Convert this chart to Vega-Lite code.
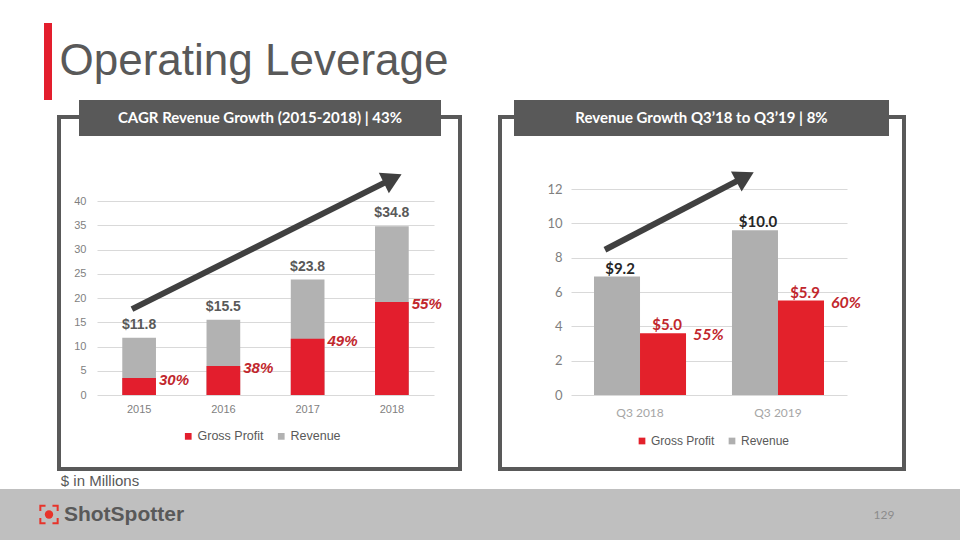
{
  "$schema": "https://vega.github.io/schema/vega-lite/v6.json",
  "padding": 0,
  "autosize": {"type": "pad"},
  "background": "white",
  "spacing": 0,
  "resolve": {"scale": {"color": "independent"}},
  "config": {
    "view": {"stroke": null},
    "axis": {"domain": false, "ticks": false}
  },
  "vconcat": [
    {
      "spacing": 0,
      "vconcat": [
        {"width": 960, "height": 23, "view": {"fill": "white", "stroke": null}, "data": {"values": []}, "mark": "point", "encoding": {}},
        {
          "spacing": 0,
          "hconcat": [
            {"width": 44, "height": 77, "data": {"values": []}, "mark": "point", "encoding": {}},
            {"width": 8, "height": 77, "view": {"fill": "#E31E2D", "stroke": null}, "data": {"values": []}, "mark": "point", "encoding": {}},
            {
              "width": 404, "height": 77,
              "data": {"values": [{"t": "Operating Leverage"}]},
              "mark": {"type": "text", "font": "Liberation Sans", "fontSize": 44, "color": "#595959", "baseline": "middle", "align": "center"},
              "encoding": {"text": {"field": "t"}}
            }
          ]
        }
      ]
    },
    {
      "spacing": 0,
      "resolve": {"scale": {"color": "independent"}},
      "hconcat": [
        {"width": 57, "height": 1, "data": {"values": []}, "mark": "point", "encoding": {}},
        {
          "spacing": 0,
          "resolve": {"scale": {"color": "independent"}},
          "hconcat": [
            {"spacing": 0, "vconcat": [
              {"width": 4, "height": 15, "data": {"values": []}, "mark": "point", "encoding": {}},
              {"width": 4, "height": 356, "view": {"fill": "#595959", "stroke": null}, "data": {"values": []}, "mark": "point", "encoding": {}}
            ]},
            {
              "spacing": 0,
              "resolve": {"scale": {"color": "independent"}},
              "vconcat": [
                {"spacing": 0, "hconcat": [
                  {"spacing": 0, "vconcat": [
                    {"width": 18, "height": 15, "data": {"values": []}, "mark": "point", "encoding": {}},
                    {"width": 18, "height": 4, "view": {"fill": "#595959", "stroke": null}, "data": {"values": []}, "mark": "point", "encoding": {}}
                  ]},
                  {
                    "width": 362, "height": 36, "view": {"fill": "#595959", "stroke": null},
                    "data": {"values": [{"h": "CAGR Revenue Growth (2015-2018) | 43%"}]},
                    "mark": {"type": "text", "font": "Lato", "fontSize": 15, "fontWeight": "bold", "color": "#FFFFFF", "baseline": "middle", "align": "center"},
                    "encoding": {"text": {"field": "h"}}
                  },
                  {"spacing": 0, "vconcat": [
                    {"width": 17, "height": 15, "data": {"values": []}, "mark": "point", "encoding": {}},
                    {"width": 17, "height": 4, "view": {"fill": "#595959", "stroke": null}, "data": {"values": []}, "mark": "point", "encoding": {}}
                  ]}
                ]},
                {
                  "width": 397, "height": 331,
                  "resolve": {"scale": {"x": "independent"}, "axis": {"x": "independent"}},
                  "layer": [
                    {
                      "data": {"values": [
                        {"year": "2015", "series": "Revenue", "value": 11.8, "label": "$11.8"},
                        {"year": "2016", "series": "Revenue", "value": 15.5, "label": "$15.5"},
                        {"year": "2017", "series": "Revenue", "value": 23.8, "label": "$23.8"},
                        {"year": "2018", "series": "Revenue", "value": 34.8, "label": "$34.8"},
                        {"year": "2015", "series": "Gross Profit", "value": 3.5, "label": "30%"},
                        {"year": "2016", "series": "Gross Profit", "value": 6.0, "label": "38%"},
                        {"year": "2017", "series": "Gross Profit", "value": 11.6, "label": "49%"},
                        {"year": "2018", "series": "Gross Profit", "value": 19.2, "label": "55%"}
                      ]},
                      "layer": [
                        {
                          "mark": {"type": "bar"},
                          "encoding": {
                            "x": {"field": "year", "type": "ordinal", "title": null,
                              "scale": {"range": [36, 373], "paddingInner": 0.6, "paddingOuter": 0.3},
                              "axis": {"labelAngle": 0, "offset": -72, "labelPadding": 8, "labelColor": "#7F7F7F", "labelFont": "Liberation Sans", "labelFontSize": 11, "grid": false}},
                            "y": {"field": "value", "type": "quantitative", "stack": null, "title": null,
                              "scale": {"domain": [0, 40], "nice": false, "range": [259, 65]},
                              "axis": {"values": [0, 5, 10, 15, 20, 25, 30, 35, 40], "offset": -36, "labelPadding": 11, "grid": true, "gridColor": "#D9D9D9", "labelColor": "#7F7F7F", "labelFont": "Liberation Sans", "labelFontSize": 11}},
                            "color": {"field": "series", "type": "nominal",
                              "scale": {"domain": ["Gross Profit", "Revenue"], "range": ["#E31E2D", "#B2B2B2"]},
                              "legend": {"orient": "none", "legendX": 121, "legendY": 294, "direction": "horizontal", "title": null, "symbolType": "square", "symbolSize": 45, "symbolStrokeWidth": 0, "labelFont": "Liberation Sans", "labelFontSize": 12.5, "labelColor": "#595959", "columnPadding": 11, "labelOffset": 3}}
                          }
                        },
                        {
                          "transform": [{"filter": "datum.series == 'Revenue'"}],
                          "mark": {"type": "text", "font": "Liberation Sans", "fontSize": 14, "fontWeight": "bold", "color": "#595959", "baseline": "alphabetic", "dy": -9},
                          "encoding": {
                            "x": {"field": "year", "type": "ordinal"},
                            "y": {"field": "value", "type": "quantitative"},
                            "text": {"field": "label"}
                          }
                        },
                        {
                          "transform": [{"filter": "datum.series == 'Gross Profit'"}],
                          "mark": {"type": "text", "font": "Liberation Sans", "fontSize": 15, "fontWeight": "bold", "fontStyle": "italic", "color": "#C1272D", "baseline": "middle", "align": "left", "dx": 3, "dy": 2},
                          "encoding": {
                            "x": {"field": "year", "type": "ordinal", "bandPosition": 1},
                            "y": {"field": "value", "type": "quantitative"},
                            "text": {"field": "label"}
                          }
                        }
                      ]
                    },
                    {
                      "data": {"values": [{"ax": 0.415, "ay": 17.7, "bx": 3.51, "by": 44.6}]},
                      "layer": [
                        {
                          "mark": {"type": "rule", "strokeWidth": 6, "color": "#404040"},
                          "encoding": {
                            "x": {"field": "ax", "type": "quantitative", "scale": {"domain": [0, 4], "range": [36, 373]}, "axis": null},
                            "x2": {"field": "bx"},
                            "y": {"field": "ay", "type": "quantitative", "title": null, "scale": {"domain": [0, 40]}},
                            "y2": {"field": "by"}
                          }
                        },
                        {
                          "mark": {"type": "point", "shape": "triangle-up", "angle": 64, "size": 520, "filled": true, "color": "#404040", "opacity": 1},
                          "encoding": {
                            "x": {"field": "bx", "type": "quantitative", "scale": {"domain": [0, 4], "range": [36, 373]}, "axis": null},
                            "y": {"field": "by", "type": "quantitative", "title": null, "scale": {"domain": [0, 40]}}
                          }
                        }
                      ]
                    }
                  ]
                },
                {"width": 397, "height": 4, "view": {"fill": "#595959", "stroke": null}, "data": {"values": []}, "mark": "point", "encoding": {}}
              ]
            },
            {"spacing": 0, "vconcat": [
              {"width": 4, "height": 15, "data": {"values": []}, "mark": "point", "encoding": {}},
              {"width": 4, "height": 356, "view": {"fill": "#595959", "stroke": null}, "data": {"values": []}, "mark": "point", "encoding": {}}
            ]}
          ]
        },
        {"width": 36, "height": 1, "data": {"values": []}, "mark": "point", "encoding": {}},
        {
          "spacing": 0,
          "resolve": {"scale": {"color": "independent"}},
          "hconcat": [
            {"spacing": 0, "vconcat": [
              {"width": 4, "height": 15, "data": {"values": []}, "mark": "point", "encoding": {}},
              {"width": 4, "height": 356, "view": {"fill": "#595959", "stroke": null}, "data": {"values": []}, "mark": "point", "encoding": {}}
            ]},
            {
              "spacing": 0,
              "resolve": {"scale": {"color": "independent"}},
              "vconcat": [
                {"spacing": 0, "hconcat": [
                  {"spacing": 0, "vconcat": [
                    {"width": 12, "height": 15, "data": {"values": []}, "mark": "point", "encoding": {}},
                    {"width": 12, "height": 4, "view": {"fill": "#595959", "stroke": null}, "data": {"values": []}, "mark": "point", "encoding": {}}
                  ]},
                  {
                    "width": 375, "height": 36, "view": {"fill": "#595959", "stroke": null},
                    "data": {"values": [{"h": "Revenue Growth Q3’18 to Q3’19  | 8%"}]},
                    "mark": {"type": "text", "font": "Lato", "fontSize": 15, "fontWeight": "bold", "color": "#FFFFFF", "baseline": "middle", "align": "center"},
                    "encoding": {"text": {"field": "h"}}
                  },
                  {"spacing": 0, "vconcat": [
                    {"width": 13, "height": 15, "data": {"values": []}, "mark": "point", "encoding": {}},
                    {"width": 13, "height": 4, "view": {"fill": "#595959", "stroke": null}, "data": {"values": []}, "mark": "point", "encoding": {}}
                  ]}
                ]},
                {
                  "width": 400, "height": 331,
                  "resolve": {"scale": {"x": "independent"}, "axis": {"x": "independent"}},
                  "layer": [
                    {
                      "data": {"values": [
                        {"quarter": "Q3 2018", "series": "Revenue", "value": 6.9, "label": "$9.2", "pct": ""},
                        {"quarter": "Q3 2019", "series": "Revenue", "value": 9.6, "label": "$10.0", "pct": ""},
                        {"quarter": "Q3 2018", "series": "Gross Profit", "value": 3.6, "label": "$5.0", "pct": "55%"},
                        {"quarter": "Q3 2019", "series": "Gross Profit", "value": 5.5, "label": "$5.9", "pct": "60%"}
                      ]},
                      "layer": [
                        {
                          "mark": {"type": "bar"},
                          "encoding": {
                            "x": {"field": "quarter", "type": "nominal", "title": null,
                              "scale": {"range": [69, 345], "paddingInner": 0.333, "paddingOuter": 0.1667},
                              "axis": {"labelAngle": 0, "offset": -72, "labelPadding": 12, "labelColor": "#A6A6A6", "labelFont": "Lato", "labelFontSize": 12, "grid": false}},
                            "xOffset": {"field": "series", "type": "nominal", "scale": {"domain": ["Revenue", "Gross Profit"], "paddingInner": 0, "paddingOuter": 0}},
                            "y": {"field": "value", "type": "quantitative", "stack": null, "title": null,
                              "scale": {"domain": [0, 12], "nice": false, "range": [259, 53]},
                              "axis": {"values": [0, 2, 4, 6, 8, 10, 12], "offset": -69, "labelPadding": 9, "grid": true, "gridColor": "#D9D9D9", "labelColor": "#7F7F7F", "labelFont": "Lato", "labelFontSize": 13}},
                            "color": {"field": "series", "type": "nominal",
                              "scale": {"domain": ["Gross Profit", "Revenue"], "range": ["#E3212B", "#AFAFAF"]},
                              "legend": {"orient": "none", "legendX": 134, "legendY": 299, "direction": "horizontal", "title": null, "symbolType": "square", "symbolSize": 45, "symbolStrokeWidth": 0, "labelFont": "Liberation Sans", "labelFontSize": 12, "labelColor": "#595959", "columnPadding": 11, "labelOffset": 3}}
                          }
                        },
                        {
                          "transform": [{"filter": "datum.series == 'Revenue'"}],
                          "mark": {"type": "text", "font": "Lato", "fontSize": 15, "fontWeight": "bold", "color": "#262626", "baseline": "alphabetic", "dy": -3, "dx": 3},
                          "encoding": {
                            "x": {"field": "quarter", "type": "nominal", "bandPosition": 0.25},
                            "y": {"field": "value", "type": "quantitative"},
                            "text": {"field": "label"}
                          }
                        },
                        {
                          "transform": [{"filter": "datum.series == 'Gross Profit'"}],
                          "mark": {"type": "text", "font": "Lato", "fontSize": 15, "fontWeight": "bold", "color": "#C1272D", "baseline": "alphabetic", "dy": -3, "dx": 4},
                          "encoding": {
                            "x": {"field": "quarter", "type": "nominal", "bandPosition": 0.75},
                            "y": {"field": "value", "type": "quantitative"},
                            "text": {"field": "label"}
                          }
                        },
                        {
                          "transform": [{"filter": "datum.series == 'Gross Profit'"}],
                          "mark": {"type": "text", "font": "Lato", "fontSize": 16, "fontWeight": "bold", "fontStyle": "italic", "color": "#C1272D", "baseline": "middle", "align": "left", "dx": 7, "dy": 2},
                          "encoding": {
                            "x": {"field": "quarter", "type": "nominal", "bandPosition": 1},
                            "y": {"field": "value", "type": "quantitative"},
                            "text": {"field": "pct"}
                          }
                        }
                      ]
                    },
                    {
                      "data": {"values": [{"ax": 0.246, "ay": 8.46, "bx": 1.261, "by": 12.71}]},
                      "layer": [
                        {
                          "mark": {"type": "rule", "strokeWidth": 6, "color": "#404040"},
                          "encoding": {
                            "x": {"field": "ax", "type": "quantitative", "scale": {"domain": [0, 2], "range": [69, 345]}, "axis": null},
                            "x2": {"field": "bx"},
                            "y": {"field": "ay", "type": "quantitative", "title": null, "scale": {"domain": [0, 12]}},
                            "y2": {"field": "by"}
                          }
                        },
                        {
                          "mark": {"type": "point", "shape": "triangle-up", "angle": 62, "size": 520, "filled": true, "color": "#404040", "opacity": 1},
                          "encoding": {
                            "x": {"field": "bx", "type": "quantitative", "scale": {"domain": [0, 2], "range": [69, 345]}, "axis": null},
                            "y": {"field": "by", "type": "quantitative", "title": null, "scale": {"domain": [0, 12]}}
                          }
                        }
                      ]
                    }
                  ]
                },
                {"width": 400, "height": 4, "view": {"fill": "#595959", "stroke": null}, "data": {"values": []}, "mark": "point", "encoding": {}}
              ]
            },
            {"spacing": 0, "vconcat": [
              {"width": 4, "height": 15, "data": {"values": []}, "mark": "point", "encoding": {}},
              {"width": 4, "height": 356, "view": {"fill": "#595959", "stroke": null}, "data": {"values": []}, "mark": "point", "encoding": {}}
            ]}
          ]
        }
      ]
    },
    {
      "spacing": 0,
      "hconcat": [
        {"width": 59, "height": 18, "data": {"values": []}, "mark": "point", "encoding": {}},
        {
          "width": 82, "height": 18,
          "data": {"values": [{"t": "$ in Millions"}]},
          "mark": {"type": "text", "font": "Liberation Sans", "fontSize": 15, "color": "#595959", "baseline": "middle", "align": "center", "dy": 1},
          "encoding": {"text": {"field": "t"}}
        }
      ]
    },
    {
      "spacing": 0,
      "hconcat": [
        {"width": 35, "height": 51, "view": {"fill": "#BFBFBF", "stroke": null}, "data": {"values": []}, "mark": "point", "encoding": {}},
        {
          "width": 28, "height": 51, "view": {"fill": "#BFBFBF", "stroke": null},
          "data": {"values": [{"logo": "ShotSpotter"}]},
          "layer": [
            {"mark": {"type": "point", "shape": "circle", "size": 70, "filled": true, "color": "#E8332A", "opacity": 1}, "encoding": {}},
            {"mark": {"type": "point", "shape": "M-1,-0.4V-1H-0.4M0.4,-1H1V-0.4M1,0.4V1H0.4M-0.4,1H-1V0.4", "size": 300, "filled": false, "color": "#E8332A", "strokeWidth": 2, "opacity": 1}, "encoding": {}}
          ]
        },
        {
          "width": 122, "height": 51, "view": {"fill": "#BFBFBF", "stroke": null},
          "data": {"values": [{"logo": "ShotSpotter"}]},
          "mark": {"type": "text", "font": "Liberation Sans", "fontSize": 21, "fontWeight": "bold", "color": "#595959", "baseline": "middle", "align": "center"},
          "encoding": {"text": {"field": "logo"}}
        },
        {"width": 684, "height": 51, "view": {"fill": "#BFBFBF", "stroke": null}, "data": {"values": []}, "mark": "point", "encoding": {}},
        {
          "width": 30, "height": 51, "view": {"fill": "#BFBFBF", "stroke": null},
          "data": {"values": [{"page": "129"}]},
          "mark": {"type": "text", "font": "Lato", "fontSize": 12, "color": "#8C8C8C", "baseline": "middle", "align": "center"},
          "encoding": {"text": {"field": "page"}}
        },
        {"width": 61, "height": 51, "view": {"fill": "#BFBFBF", "stroke": null}, "data": {"values": []}, "mark": "point", "encoding": {}}
      ]
    }
  ]
}
